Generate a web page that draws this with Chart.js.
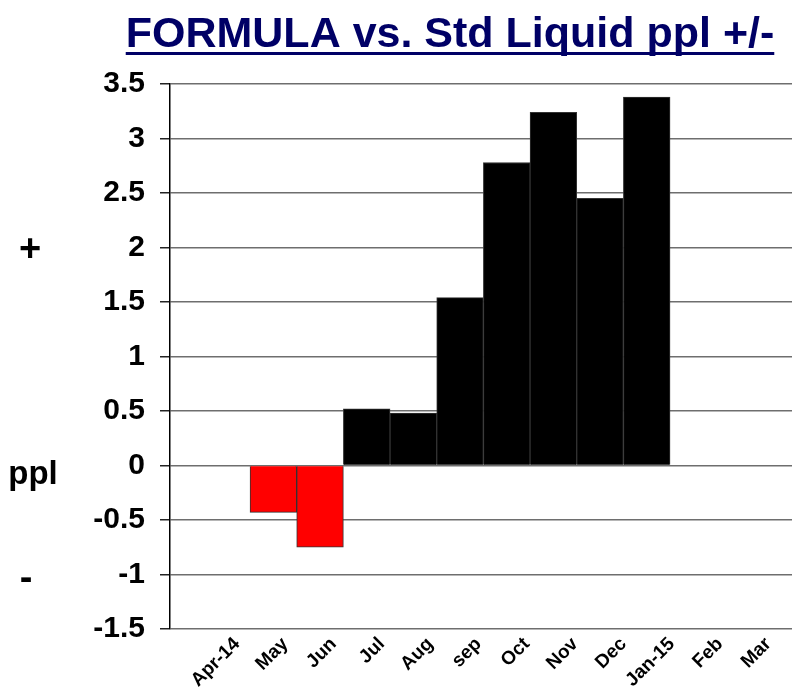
<!DOCTYPE html>
<html lang="en">
<head>
<meta charset="UTF-8">
<title>FORMULA vs. Std Liquid ppl +/-</title>
<script src="https://cdn.jsdelivr.net/npm/chart.js"></script>
<style>
  body { margin: 0; background: #fff; }
</style>
</head>
<body>
<canvas id="pplChart" width="792" height="689"></canvas>
<script>
// month labels and ppl difference (formula minus std liquid)
var months = ['Apr-14', 'May', 'Jun', 'Jul', 'Aug', 'sep', 'Oct', 'Nov', 'Dec', 'Jan-15', 'Feb', 'Mar'];
var pplDiff = [null, -0.43, -0.75, 0.52, 0.48, 1.54, 2.78, 3.24, 2.45, 3.38, null, null];
var yTicks = [-1.5, -1, -0.5, 0, 0.5, 1, 1.5, 2, 2.5, 3, 3.5];

var titleText = 'FORMULA vs. Std Liquid ppl +/-';

// title, underline and the +/ppl/- side notes
var extras = {
    id: 'extras',
    beforeDraw: function (chart) {
        var c = chart.ctx;
        c.save();
        c.fillStyle = '#fff';
        c.fillRect(0, 0, chart.width, chart.height);
        c.restore();
    },
    afterDraw: function (chart) {
        var c = chart.ctx;
        c.save();
        c.fillStyle = '#000066';
        c.font = 'bold 43px "Liberation Sans", Arial, sans-serif';
        c.textAlign = 'left';
        c.textBaseline = 'alphabetic';
        var w = c.measureText(titleText).width;
        var x = 450 - w / 2;
        c.fillText(titleText, x, 47);
        c.fillRect(x, 52, w, 3);

        c.fillStyle = '#000';
        c.textAlign = 'center';
        c.font = 'bold 38px "Liberation Sans", Arial, sans-serif';
        c.fillText('+', 30, 261);
        c.fillText('-', 26, 590);
        c.font = 'bold 33px "Liberation Sans", Arial, sans-serif';
        c.fillText('ppl', 33, 484);
        c.restore();
    }
};

var ctx = document.getElementById('pplChart').getContext('2d');
var pplChart = new Chart(ctx, {
    type: 'bar',
    data: {
        datasets: [{
            data: pplDiff.map(function (v, i) { return { x: i, y: v }; }),
            backgroundColor: function (c) {
                return (c.raw && c.raw.y < 0) ? '#ff0000' : '#000000';
            },
            borderColor: '#333',
            borderWidth: 1,
            barPercentage: 1,
            categoryPercentage: 1
        }]
    },
    options: {
        responsive: false,
        animation: false,
        layout: { padding: { top: 84, left: 0, right: 0, bottom: 0 } },
        plugins: {
            legend: { display: false },
            tooltip: { enabled: false }
        },
        scales: {
            x: {
                type: 'linear',
                display: false,
                offset: false,
                min: -1.215,
                max: 12.113,
                afterBuildTicks: function (s) {
                    s.ticks = months.map(function (m, i) { return { value: i }; });
                }
            },
            xl: {
                type: 'linear',
                position: 'bottom',
                offset: false,
                min: -1.387,
                max: 11.49,
                afterBuildTicks: function (s) {
                    s.ticks = months.map(function (m, i) { return { value: i }; });
                },
                afterFit: function (s) {
                    s.height = 60;
                    s.paddingLeft = 0;
                    s.paddingRight = 0;
                },
                grid: { display: false, drawTicks: false, offset: false },
                border: { display: false },
                ticks: {
                    autoSkip: false,
                    minRotation: 45,
                    maxRotation: 45,
                    padding: 4,
                    color: '#000',
                    font: { family: '"Liberation Sans", Arial, sans-serif', size: 19, weight: 'bold' },
                    callback: function (v) { return months[v]; }
                }
            },
            y: {
                min: -1.5,
                max: 3.5,
                afterBuildTicks: function (s) {
                    s.ticks = yTicks.map(function (v) { return { value: v }; });
                },
                afterFit: function (s) {
                    s.width = 170;
                },
                ticks: {
                    padding: 15,
                    color: '#000',
                    font: { family: '"Liberation Sans Narrow", "Liberation Sans", Arial, sans-serif', size: 30, weight: 'bold' },
                    callback: function (v) { return String(v); }
                },
                grid: { color: '#6e6e6e', lineWidth: 1.5, tickLength: 10, tickColor: '#222' },
                border: { color: '#000', width: 1.5 }
            }
        }
    },
    plugins: [extras]
});
</script>
</body>
</html>
